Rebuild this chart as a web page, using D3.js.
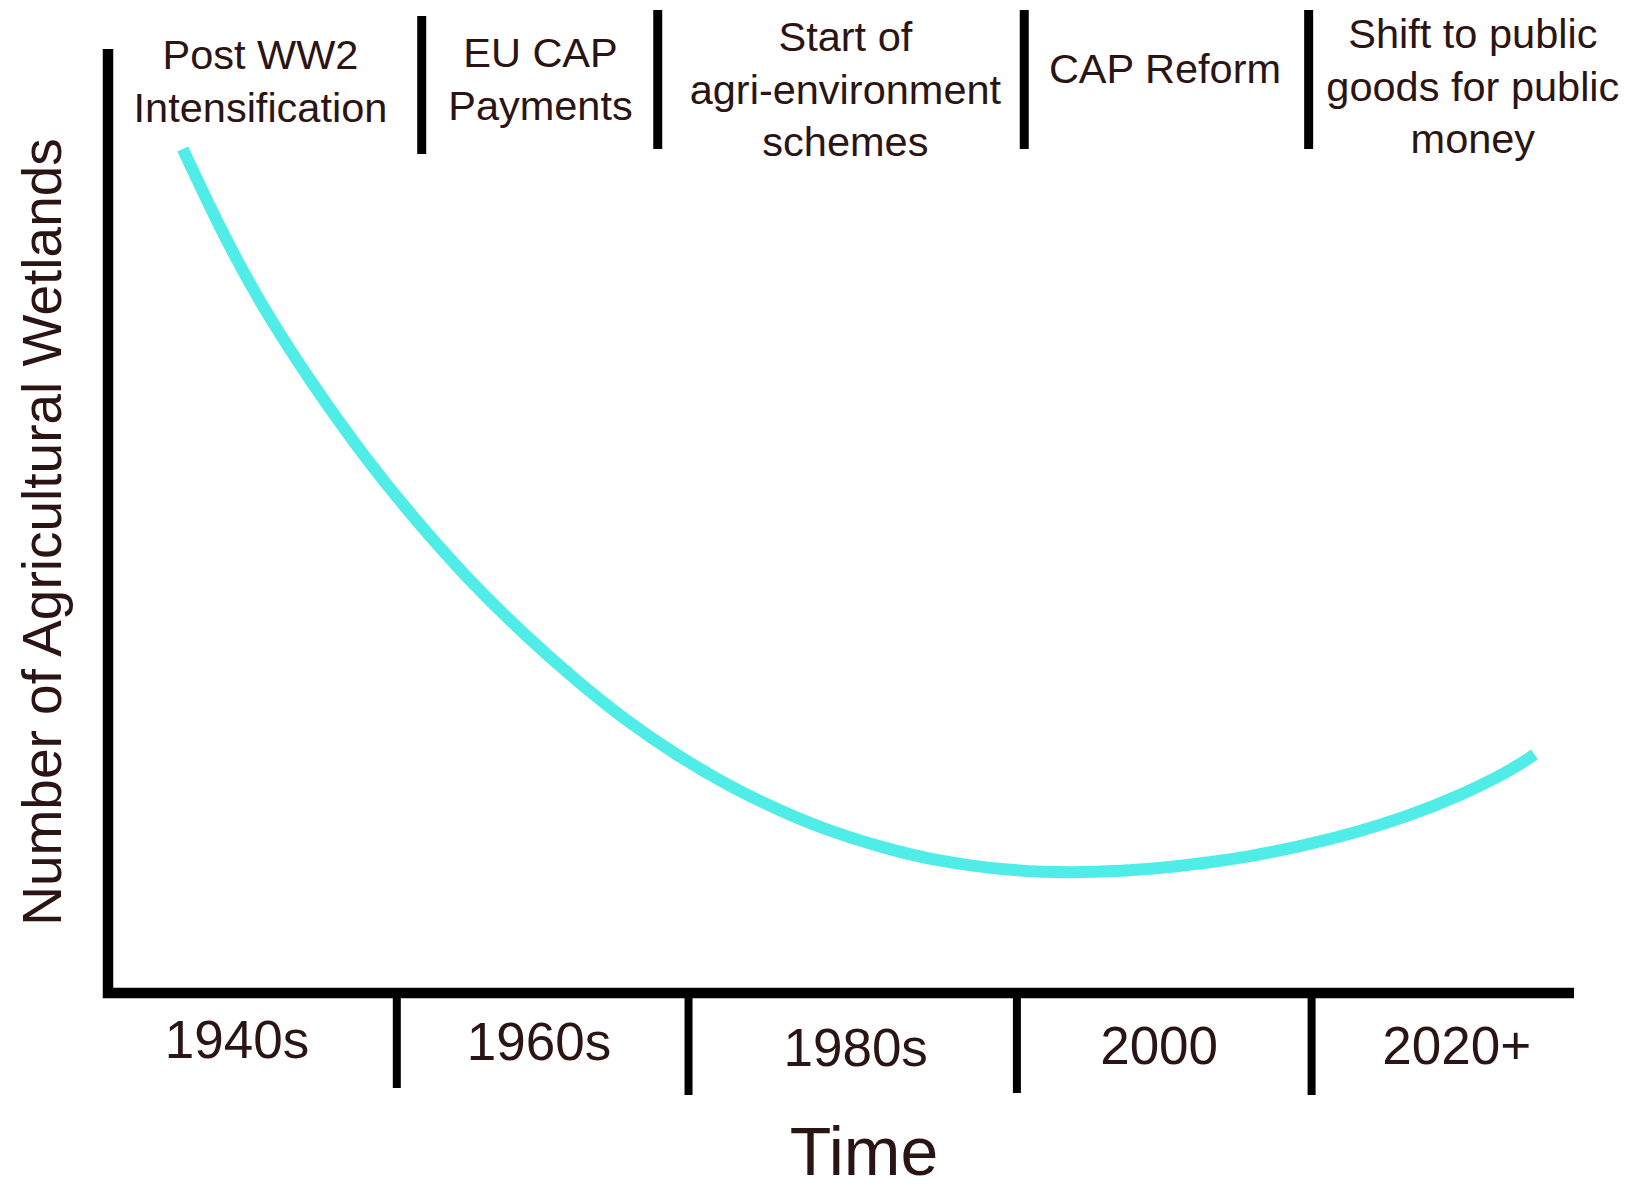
<!DOCTYPE html>
<html>
<head>
<meta charset="utf-8">
<script src="https://cdn.jsdelivr.net/npm/d3@7"></script>
<style>
  html, body { margin: 0; padding: 0; background: #ffffff; }
  svg { display: block; }
  text { font-family: "Liberation Sans", Arial, sans-serif; fill: #2b1414; }
</style>
</head>
<body>
<svg id="chart" width="1635" height="1190"></svg>
<script>
// ---- Data ----
// Time position (0-100 along the time axis) and relative number of wetlands (0-100)
const curveTime  = [5.1, 7.5, 10.4, 14.0, 17.5, 21.1, 24.6, 28.2, 31.8, 35.3, 38.9, 42.4, 46.0, 49.5, 53.1, 56.6, 60.2, 63.8, 67.3, 70.9, 74.4, 78.0, 81.5, 85.1, 88.6, 92.2, 95.8, 97.3];
const curveValue = [89.5, 81.5, 73.0, 64.4, 56.8, 49.9, 43.8, 38.3, 33.3, 28.9, 25.1, 21.9, 19.2, 17.0, 15.3, 14.0, 13.2, 12.8, 12.8, 13.1, 13.7, 14.5, 15.6, 17.0, 18.7, 20.9, 23.7, 25.3];

const periodLabels    = ["1940s", "1960s", "1980s", "2000", "2020+"];
const periodCenters   = [8.8, 29.4, 51.0, 71.7, 92.0];
const periodDividers  = [19.7, 39.6, 62.0, 82.1];

const policyLabels    = [["Post WW2", "Intensification"], ["EU CAP", "Payments"], ["Start of", "agri-environment", "schemes"], ["CAP Reform"], ["Shift to public", "goods for public", "money"]];
const policyCenters   = [10.4, 29.5, 50.3, 72.1, 93.1];
const policyDividers  = [21.4, 37.5, 62.5, 81.9];

const xTitle = "Time";
const yTitle = "Number of Agricultural Wetlands";

// ---- Layout ----
const svg = d3.select("#chart");
const axisLeft = 108, axisRight = 1574, axisBottom = 993, axisTop = 50;
const x = d3.scaleLinear().domain([0, 100]).range([axisLeft, axisRight]);
const y = d3.scaleLinear().domain([0, 100]).range([axisBottom, axisTop]);

// Axes (thick black L)
svg.append("path")
  .attr("d", d3.line()([[axisLeft, axisTop - 1], [axisLeft, axisBottom], [axisRight, axisBottom]]))
  .attr("fill", "none")
  .attr("stroke", "#000")
  .attr("stroke-width", 10.5)
  .attr("stroke-linejoin", "miter");

// Bottom dividers
const bottomDivEnds = [1088, 1095, 1093, 1095];
svg.selectAll("line.bdiv").data(periodDividers).join("line")
  .attr("class", "bdiv")
  .attr("x1", d => x(d)).attr("x2", d => x(d))
  .attr("y1", axisBottom).attr("y2", (d, i) => bottomDivEnds[i])
  .attr("stroke", "#000").attr("stroke-width", 8);

// Top dividers
const topDivStart = [16, 10, 10, 10], topDivEnd = [154, 149, 149, 149];
svg.selectAll("line.tdiv").data(policyDividers).join("line")
  .attr("class", "tdiv")
  .attr("x1", d => x(d)).attr("x2", d => x(d))
  .attr("y1", (d, i) => topDivStart[i]).attr("y2", (d, i) => topDivEnd[i])
  .attr("stroke", "#000").attr("stroke-width", 9);

// Period labels
const periodBaselines = [1058, 1060, 1066, 1064, 1064];
svg.selectAll("text.period").data(periodLabels).join("text")
  .attr("class", "period")
  .attr("x", (d, i) => x(periodCenters[i]))
  .attr("y", (d, i) => periodBaselines[i])
  .attr("text-anchor", "middle")
  .attr("font-size", 53)
  .text(d => d);

// Policy labels
const policyFirstBaseline = [69, 67, 51, 83, 48];
const lineGap = 52.5;
policyLabels.forEach((lines, i) => {
  svg.append("text")
    .attr("text-anchor", "middle")
    .attr("font-size", 41.5)
    .selectAll("tspan").data(lines).join("tspan")
      .attr("x", x(policyCenters[i]))
      .attr("y", (d, j) => policyFirstBaseline[i] + j * lineGap)
      .text(d => d);
});

// Curve
const pts = curveTime.map((t, i) => [t, curveValue[i]]);
svg.append("path")
  .datum(pts)
  .attr("d", d3.line().x(d => x(d[0])).y(d => y(d[1])).curve(d3.curveBasis))
  .attr("fill", "none")
  .attr("stroke", "#50ede8")
  .attr("stroke-width", 12)
  .attr("stroke-linecap", "butt");

// Axis titles
svg.append("text")
  .attr("x", 864).attr("y", 1175)
  .attr("text-anchor", "middle")
  .attr("font-size", 68)
  .text(xTitle);

svg.append("text")
  .attr("transform", "translate(61,532) rotate(-90)")
  .attr("text-anchor", "middle")
  .attr("font-size", 55)
  .text(yTitle);
</script>
</body>
</html>
